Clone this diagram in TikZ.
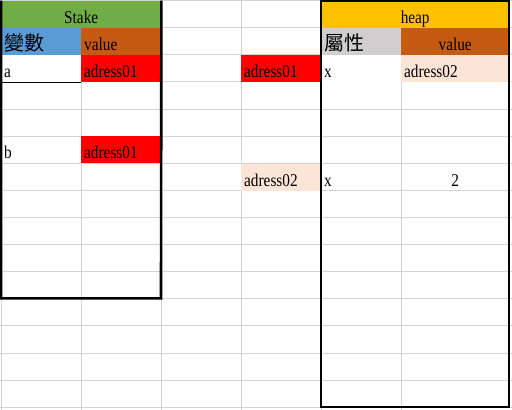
\documentclass[tikz,border=0pt]{standalone}
\usepackage{fontspec}
\setmainfont{Liberation Serif}[FakeStretch=0.85]
\newfontfamily\cjk{Noto Sans CJK TC}
\definecolor{stakegreen}{HTML}{70AD47}
\definecolor{varblue}{HTML}{5B9BD5}
\definecolor{valbrown}{HTML}{C55A11}
\definecolor{heapgold}{HTML}{FFC000}
\definecolor{attrgray}{HTML}{D0CECE}
\definecolor{peach}{HTML}{FCE4D6}
\definecolor{gridgray}{HTML}{D4D4D4}

\begin{document}
\begin{tikzpicture}[x=1pt, y=-1pt,
            cell/.style={anchor=north west, inner xsep=3pt, inner ysep=0pt, minimum height=27.1pt,
                text height=22.6pt, text depth=4.5pt, text width=74pt, align=left,
                font=\fontsize{18}{20}\selectfont},
            wide/.style={cell, text width=102pt},
            gridline/.style={draw=gridgray, line width=1pt},
            frame/.style={draw=black, line width=2.6pt}
        ]

        \useasboundingbox (0,0) rectangle (512,410);

        % sheet grid
        \foreach \gx in {1,81,161,241,321,401}
            \draw [gridline] (\gx,0) -- (\gx,410);
        \foreach \k in {0,...,15}
            \draw [gridline] (0,0.6+27.11*\k) -- (512,0.6+27.11*\k);

        % stake
        \node [cell, fill=stakegreen, text width=154pt, align=center] (stake) at (1,0.6) {Stake};
        \node [cell, fill=varblue] (varhd) at (1,27.7) {\cjk\fontsize{20}{22}\selectfont 變數};
        \node [cell, fill=valbrown] (valhd) at (81,27.7) {value};
        \node [cell, fill=white] (a) at (1,54.8) {a};
        \node [cell, fill=red] (aval) at (81,54.8) {adress01};
        \node [cell] (b) at (1,136.1) {b};
        \node [cell, fill=red] (bval) at (81,136.1) {adress01};
        \coordinate (stakeend) at (161,298.4);

        % addresses
        \node [cell, fill=red] (addr1) at (241,54.8) {adress01};
        \node [cell, fill=peach] (addr2) at (241,163.3) {adress02};

        % heap
        \node [cell, fill=heapgold, text width=182pt, align=center] (heap) at (321,0.6) {heap};
        \node [cell, fill=attrgray] (attrhd) at (321,27.7) {\cjk\fontsize{20}{22}\selectfont 屬性};
        \node [wide, fill=valbrown, align=center] (hvalhd) at (401,27.7) {value};
        \node [cell, fill=white] (xa) at (321,54.8) {x};
        \node [wide, fill=peach] (xaval) at (401,54.8) {adress02};
        \node [cell] (xb) at (321,163.3) {x};
        \node [wide, align=center] (xbval) at (401,163.3) {2};
        \coordinate (heapend) at (509,406.8);

        \draw [line width=1pt] (a.south west) -- (a.south east);
        \draw [frame] (stake.north west) |- (stakeend) -- (stake.north east);
        \draw [frame] (heap.north west) rectangle (heapend);

        \end{tikzpicture}
\end{document}
